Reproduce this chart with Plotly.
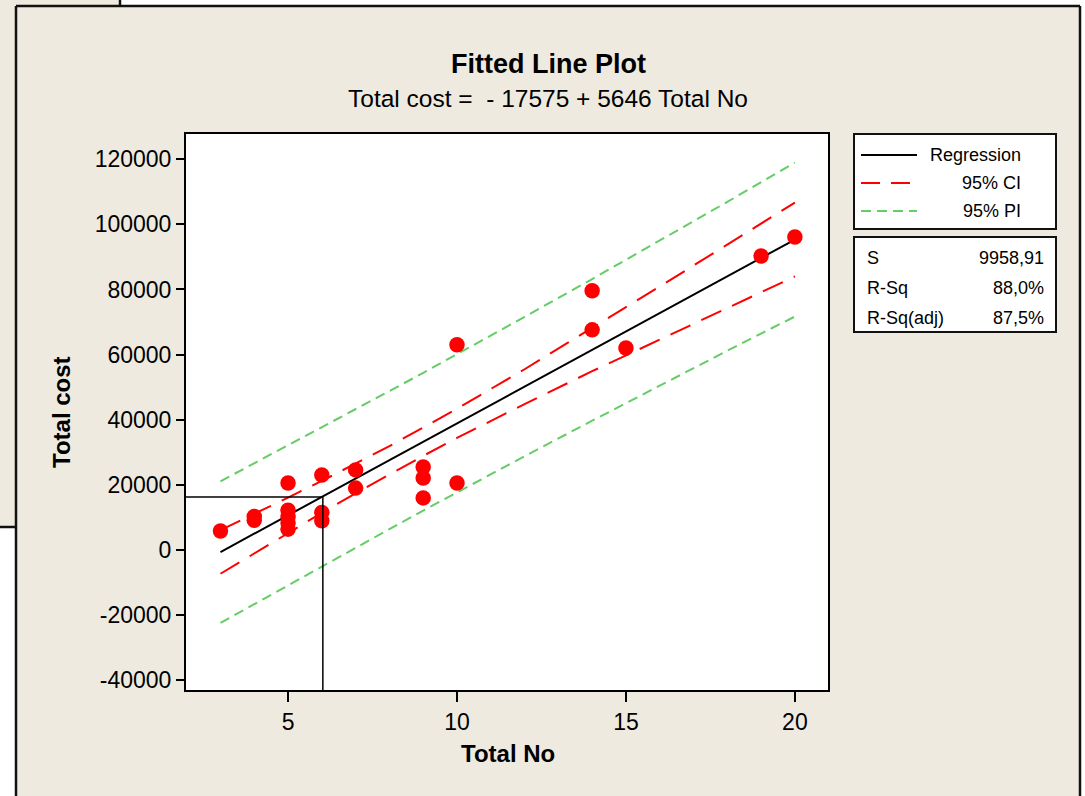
import plotly.graph_objects as go

# ---------------- data ----------------
total_no = [3, 4, 4, 5, 5, 5, 5, 5, 6, 6, 6, 7, 7, 9, 9, 9, 10, 10, 14, 14, 15, 19, 20]
total_cost = [5800, 10300, 9100, 20600, 12200, 10200, 8300, 6400, 23000, 11500, 9000,
              24600, 19000, 25500, 22100, 16000, 63000, 20600, 79600, 67600, 62000, 90300, 96100]

reg_x = [3, 20]
reg_y = [-637, 95345]

band_x = [3, 4, 5, 6, 7, 8, 9, 10, 12, 14, 16, 18, 20]
ci_upper = [6100, 11000, 16100, 21200, 26500, 31900, 37600, 43400, 55500, 68100, 80900, 93800, 106700]
ci_lower = [-7300, -1000, 5200, 11400, 17400, 23200, 28900, 34400, 44800, 54900, 64700, 74300, 84000]
pi_upper = [21100, 26600, 32100, 37600, 43200, 48800, 54400, 60100, 71600, 83200, 95000, 106900, 119000]
pi_lower = [-22400, -16600, -10800, -5000, 700, 6400, 12100, 17700, 28800, 39700, 50500, 61200, 71700]

x_ticks = [5, 10, 15, 20]
y_ticks = [-40000, -20000, 0, 20000, 40000, 60000, 80000, 100000, 120000]

ref_x = 6.03
ref_y = 16300

title = "Fitted Line Plot"
subtitle = "Total cost =\u00a0\u00a0- 17575 + 5646 Total No"
x_title = "Total No"
y_title = "Total cost"
legend_names = ["Regression", "95% CI", "95% PI"]
stat_names = ["S", "R-Sq", "R-Sq(adj)"]
stat_values = ["9958,91", "88,0%", "87,5%"]

# ---------------- styling / layout ----------------
W, H = 1085, 796
L, R, T, B = 186, 828, 134, 690
BEIGE = "#EEEAE0"
RED = "#FF0000"
GREEN = "#66CC66"
FONT = "Liberation Sans, Arial, sans-serif"


def px(x):
    return (x - L) / (R - L)


def py(y):
    return (B - y) / (B - T)


fig = go.Figure()

fig.add_trace(go.Scatter(x=band_x, y=pi_upper, mode="lines",
                         line=dict(color=GREEN, width=2, dash="10px,6px"), hoverinfo="skip"))
fig.add_trace(go.Scatter(x=band_x, y=pi_lower, mode="lines",
                         line=dict(color=GREEN, width=2, dash="10px,6px"), hoverinfo="skip"))
fig.add_trace(go.Scatter(x=band_x, y=ci_upper, mode="lines",
                         line=dict(color=RED, width=2, dash="22px,12px"), hoverinfo="skip"))
fig.add_trace(go.Scatter(x=band_x, y=ci_lower, mode="lines",
                         line=dict(color=RED, width=2, dash="22px,12px"), hoverinfo="skip"))
fig.add_trace(go.Scatter(x=reg_x, y=reg_y, mode="lines",
                         line=dict(color="black", width=2), hoverinfo="skip"))
fig.add_trace(go.Scatter(x=total_no, y=total_cost, mode="markers",
                         marker=dict(color=RED, size=15.5, line=dict(width=0))))

shapes = []
# surrounding window pieces
shapes.append(dict(type="rect", xref="paper", yref="paper", x0=px(120), x1=px(1090),
                   y0=py(-5), y1=py(6), fillcolor="white", line=dict(width=0), layer="below"))
shapes.append(dict(type="rect", xref="paper", yref="paper", x0=px(-5), x1=px(16),
                   y0=py(527), y1=py(800), fillcolor="white", line=dict(width=0), layer="below"))
shapes.append(dict(type="rect", xref="paper", yref="paper", x0=px(1081), x1=px(1090),
                   y0=py(6), y1=py(800), fillcolor="white", line=dict(width=0), layer="below"))
for (x0, y0, x1, y1) in [(16, 6, 1080, 6), (16, 6, 16, 800), (1080, 6, 1080, 800),
                         (120, -2, 120, 6), (-2, 527, 16, 527)]:
    shapes.append(dict(type="line", xref="paper", yref="paper", x0=px(x0), x1=px(x1),
                       y0=py(y0), y1=py(y1), line=dict(color="#111111", width=2.5)))

# reference lines drawn in the plot
shapes.append(dict(type="line", xref="x", yref="y", x0=1.9, x1=ref_x, y0=ref_y, y1=ref_y,
                   line=dict(color="black", width=1.5)))
shapes.append(dict(type="line", xref="x", yref="y", x0=ref_x, x1=ref_x, y0=ref_y, y1=-43000,
                   line=dict(color="black", width=1.5)))

# legend boxes
shapes.append(dict(type="rect", xref="paper", yref="paper", x0=px(854), x1=px(1056),
                   y0=py(134), y1=py(229), fillcolor="white", line=dict(color="#111111", width=2)))
shapes.append(dict(type="rect", xref="paper", yref="paper", x0=px(854), x1=px(1056),
                   y0=py(237), y1=py(332), fillcolor="white", line=dict(color="#111111", width=2)))
legend_styles = [dict(color="black", width=2),
                 dict(color=RED, width=2, dash="19px,11px"),
                 dict(color=GREEN, width=2, dash="10px,6px")]
legend_rows = [155, 183, 211]
for yy, st in zip(legend_rows, legend_styles):
    shapes.append(dict(type="line", xref="paper", yref="paper", x0=px(861), x1=px(917),
                       y0=py(yy), y1=py(yy), line=st))

annotations = []
for yy, name in zip(legend_rows, legend_names):
    annotations.append(dict(xref="paper", yref="paper", x=px(1023), y=py(yy), text=name,
                            showarrow=False, xanchor="right", yanchor="middle",
                            font=dict(family=FONT, size=18, color="black")))
stat_rows = [258, 288, 318]
for yy, n, v in zip(stat_rows, stat_names, stat_values):
    annotations.append(dict(xref="paper", yref="paper", x=px(865), y=py(yy), text=n,
                            showarrow=False, xanchor="left", yanchor="middle",
                            font=dict(family=FONT, size=18, color="black")))
    annotations.append(dict(xref="paper", yref="paper", x=px(1046), y=py(yy), text=v,
                            showarrow=False, xanchor="right", yanchor="middle",
                            font=dict(family=FONT, size=18, color="black")))

annotations.append(dict(xref="paper", yref="paper", x=px(548), y=py(64), text="<b>" + title + "</b>",
                        showarrow=False, xanchor="center", yanchor="middle",
                        font=dict(family=FONT, size=27, color="black")))
annotations.append(dict(xref="paper", yref="paper", x=px(548), y=py(99), text=subtitle,
                        showarrow=False, xanchor="center", yanchor="middle",
                        font=dict(family=FONT, size=24.5, color="black")))
annotations.append(dict(xref="paper", yref="paper", x=px(508), y=py(753), text="<b>" + x_title + "</b>",
                        showarrow=False, xanchor="center", yanchor="middle",
                        font=dict(family=FONT, size=24, color="black")))
annotations.append(dict(xref="paper", yref="paper", x=px(61), y=py(412), text="<b>" + y_title + "</b>",
                        showarrow=False, xanchor="center", yanchor="middle", textangle=-90,
                        font=dict(family=FONT, size=24, color="black")))

fig.update_layout(
    width=W, height=H,
    margin=dict(l=L, r=W - R, t=T, b=H - B, pad=0),
    paper_bgcolor=BEIGE, plot_bgcolor="white",
    showlegend=False,
    shapes=shapes, annotations=annotations,
    font=dict(family=FONT, color="black"),
)
fig.update_xaxes(range=[1.98, 20.98], tickvals=x_ticks, ticktext=[str(v) for v in x_ticks],
                 ticks="outside", ticklen=10, tickwidth=2, tickcolor="black",
                 showline=True, linecolor="black", linewidth=2, mirror=True,
                 showgrid=False, zeroline=False, tickfont=dict(family=FONT, size=23))
fig.update_yaxes(range=[-43000, 127750], tickvals=y_ticks, ticktext=[str(v) for v in y_ticks],
                 ticks="outside", ticklen=8, tickwidth=2, tickcolor="black",
                 showline=True, linecolor="black", linewidth=2, mirror=True,
                 showgrid=False, zeroline=False, tickfont=dict(family=FONT, size=23))

fig.write_html("out.html", config={"displayModeBar": False},
               post_script="document.body.style.margin='0';document.body.style.overflow='hidden';")
